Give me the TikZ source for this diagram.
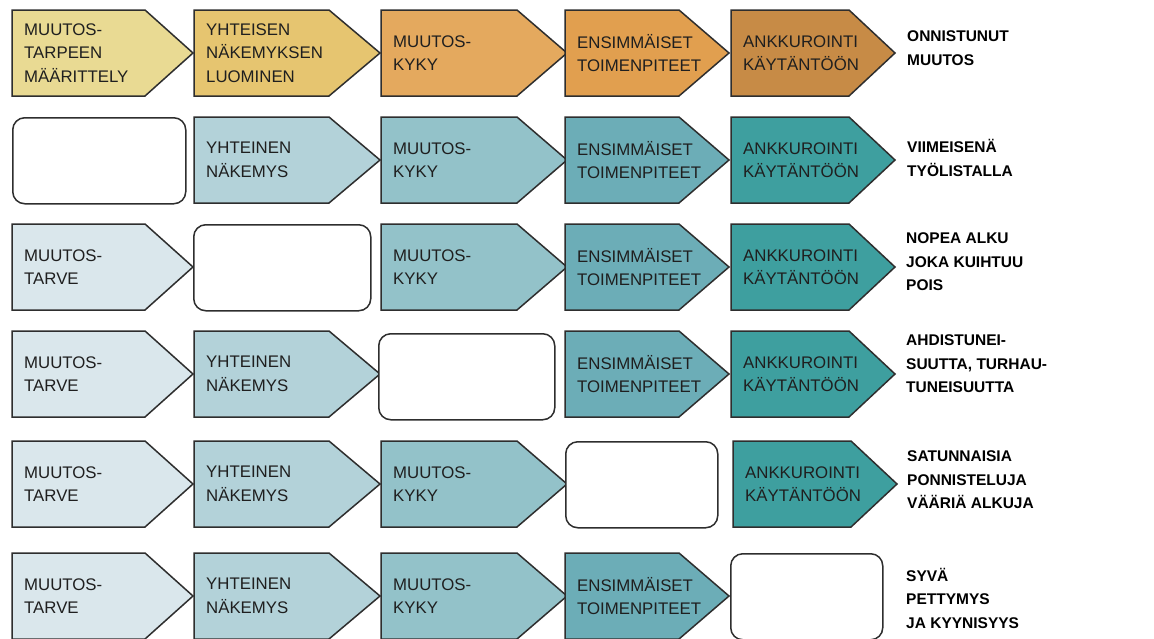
\documentclass[tikz,border=0pt]{standalone}
\usepackage{fontspec}
\setmainfont{Liberation Sans}
\definecolor{yA}{HTML}{E9DA93}
\definecolor{yB}{HTML}{E6C570}
\definecolor{yC}{HTML}{E4A95E}
\definecolor{yD}{HTML}{E19F4F}
\definecolor{yE}{HTML}{C78B46}
\definecolor{tA}{HTML}{DAE7EC}
\definecolor{tB}{HTML}{B3D2D9}
\definecolor{tC}{HTML}{93C2C9}
\definecolor{tD}{HTML}{6CADB7}
\definecolor{tE}{HTML}{3E9F9F}
\definecolor{edge}{HTML}{2E2E2E}
\tikzset{
 boxline/.style={draw=edge, line width=1.5pt},
 boxtext/.style={anchor=west, align=left, inner sep=0pt, font=\fontsize{16.8}{23.5}\selectfont, text=black!88},
 blankbox/.style={draw=edge, line width=1.5pt, rounded corners=12pt, fill=white, minimum height=86pt, anchor=north west, inner sep=0pt},
 outlabel/.style={anchor=west, align=left, inner sep=0pt, font=\fontsize{15.5}{23.5}\selectfont\bfseries, text=black}
}
% name, x, top y, straight length, point length, fill, text
\newcommand\abox[7]{%
 \draw[boxline, fill=#6] (#2,#3) -- ++(#4,0) -- ++(#5,43) -- ++(-#5,43) -- ++(-#4,0) -- cycle;
 \node[boxtext] (#1) at (#2+12,#3+43) {#7};}
\begin{document}
\begin{tikzpicture}[x=1pt,y=-1pt]
\useasboundingbox[fill=white] (0,0) rectangle (1154,638);
% Row 1
\abox{a1}{12}{10}{133}{48}{yA}{MUUTOS-\\TARPEEN\\MÄÄRITTELY}
\abox{a2}{194}{10}{135}{51}{yB}{YHTEISEN\\NÄKEMYKSEN\\LUOMINEN}
\abox{a3}{381}{10}{136}{50}{yC}{MUUTOS-\\KYKY}
\abox{a4}{565}{10}{114}{50}{yD}{ENSIMMÄISET\\TOIMENPITEET}
\abox{a5}{731}{10}{118}{46}{yE}{ANKKUROINTI\\KÄYTÄNTÖÖN}
\node[outlabel] (l1) at (907,48) {ONNISTUNUT\\MUUTOS};
% Row 2
\node[blankbox, minimum width=173pt] (b1) at (12,117) {};
\abox{b2}{194}{117}{135}{51}{tB}{YHTEINEN\\NÄKEMYS}
\abox{b3}{381}{117}{136}{50}{tC}{MUUTOS-\\KYKY}
\abox{b4}{565}{117}{114}{50}{tD}{ENSIMMÄISET\\TOIMENPITEET}
\abox{b5}{731}{117}{118}{46}{tE}{ANKKUROINTI\\KÄYTÄNTÖÖN}
\node[outlabel] (l2) at (907,158) {VIIMEISENÄ\\TYÖLISTALLA};
% Row 3
\abox{c1}{12}{224}{133}{48}{tA}{MUUTOS-\\TARVE}
\node[blankbox, minimum width=177pt] (c2) at (193,224) {};
\abox{c3}{381}{224}{136}{50}{tC}{MUUTOS-\\KYKY}
\abox{c4}{565}{224}{114}{50}{tD}{ENSIMMÄISET\\TOIMENPITEET}
\abox{c5}{731}{224}{118}{46}{tE}{ANKKUROINTI\\KÄYTÄNTÖÖN}
\node[outlabel] (l3) at (906,262) {NOPEA ALKU\\JOKA KUIHTUU\\POIS};
% Row 4
\abox{d1}{12}{331}{133}{48}{tA}{MUUTOS-\\TARVE}
\abox{d2}{194}{331}{135}{51}{tB}{YHTEINEN\\NÄKEMYS}
\node[blankbox, minimum width=176pt] (d3) at (378,333) {};
\abox{d4}{565}{331}{114}{50}{tD}{ENSIMMÄISET\\TOIMENPITEET}
\abox{d5}{731}{331}{118}{46}{tE}{ANKKUROINTI\\KÄYTÄNTÖÖN}
\node[outlabel] (l4) at (906,364) {AHDISTUNEI-\\SUUTTA, TURHAU-\\TUNEISUUTTA};
% Row 5
\abox{e1}{12}{441}{133}{48}{tA}{MUUTOS-\\TARVE}
\abox{e2}{194}{441}{135}{51}{tB}{YHTEINEN\\NÄKEMYS}
\abox{e3}{381}{441}{136}{50}{tC}{MUUTOS-\\KYKY}
\node[blankbox, minimum width=152pt] (e4) at (565,441) {};
\abox{e5}{733}{441}{118}{46}{tE}{ANKKUROINTI\\KÄYTÄNTÖÖN}
\node[outlabel] (l5) at (907,480) {SATUNNAISIA\\PONNISTELUJA\\VÄÄRIÄ ALKUJA};
% Row 6
\abox{f1}{12}{553}{133}{48}{tA}{MUUTOS-\\TARVE}
\abox{f2}{194}{553}{135}{51}{tB}{YHTEINEN\\NÄKEMYS}
\abox{f3}{381}{553}{136}{50}{tC}{MUUTOS-\\KYKY}
\abox{f4}{565}{553}{114}{50}{tD}{ENSIMMÄISET\\TOIMENPITEET}
\node[blankbox, minimum width=152pt] (f5) at (730,553) {};
\node[outlabel] (l6) at (906,598) {SYVÄ\\PETTYMYS\\JA KYYNISYYS};
\end{tikzpicture}
\end{document}
